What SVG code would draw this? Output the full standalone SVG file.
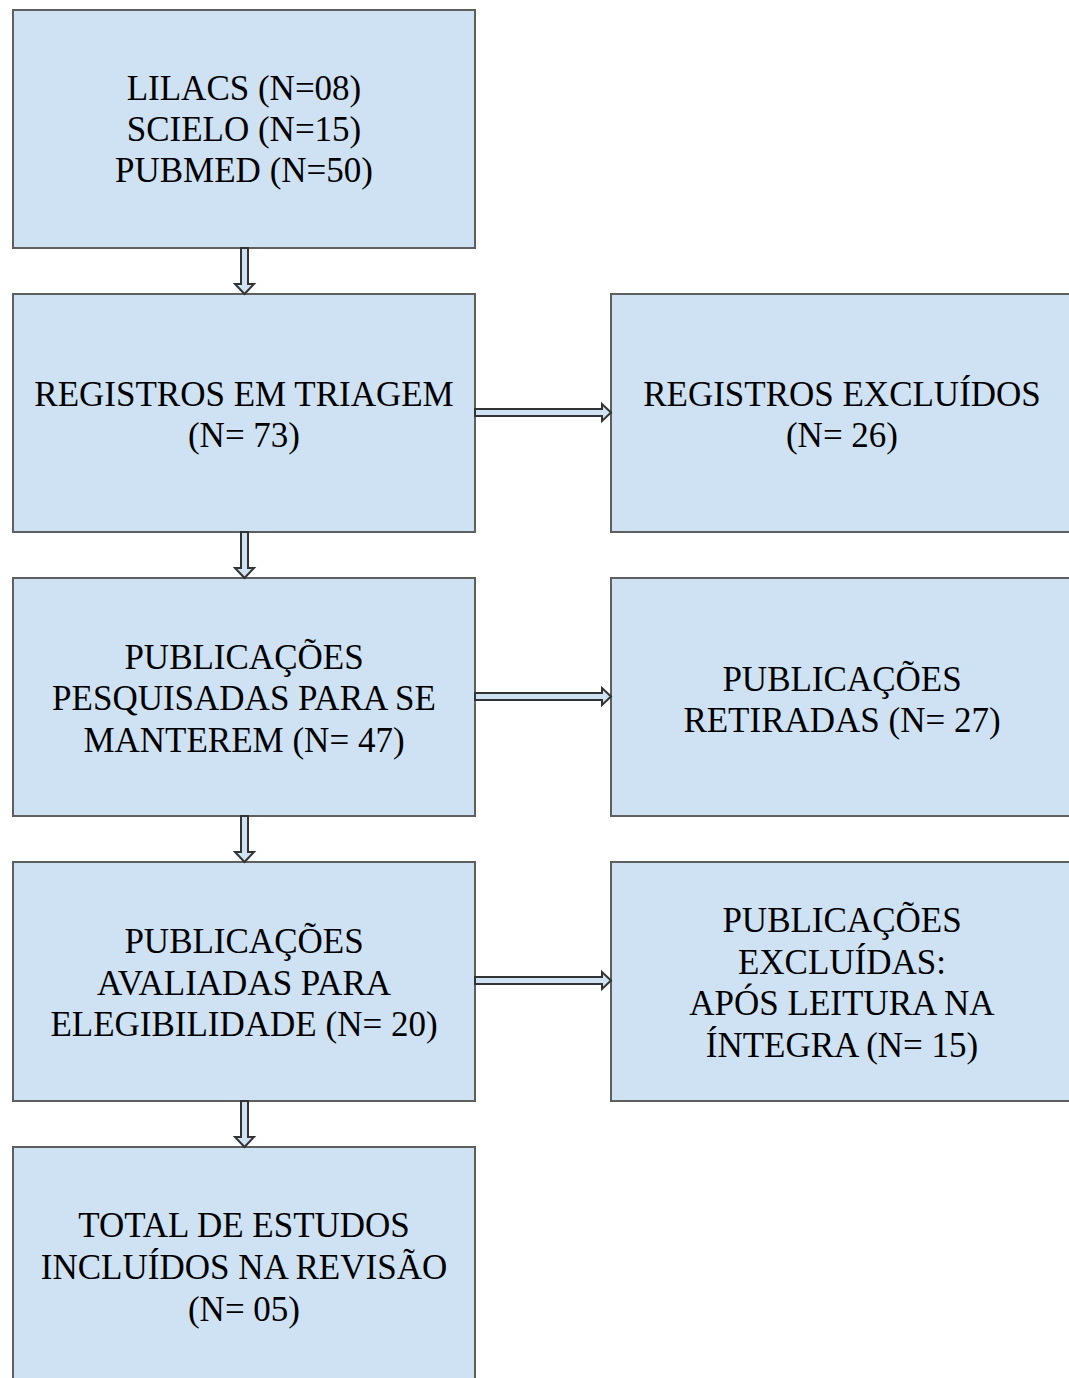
<svg xmlns="http://www.w3.org/2000/svg" width="1069" height="1378" viewBox="0 0 1069 1378">
<style>
.box{fill:#cfe2f3;stroke:#5f5f5f;stroke-width:2}
.t{font-family:"Liberation Serif","Times New Roman",serif;font-size:35px;fill:#000000;text-anchor:middle}
.arr{fill:#cfe2f3;stroke:#333333;stroke-width:2;stroke-linejoin:miter}
</style>
<rect width="1069" height="1378" fill="#ffffff"/>
<g id="n1"><rect class="box" x="13" y="10" width="462" height="238"/>
<text class="t" x="244" y="100">LILACS (N=08)</text>
<text class="t" x="244" y="141">SCIELO (N=15)</text>
<text class="t" x="244" y="182">PUBMED (N=50)</text></g>
<g id="n2"><rect class="box" x="13" y="294" width="462" height="238"/>
<text class="t" x="244" y="406">REGISTROS EM TRIAGEM</text>
<text class="t" x="244" y="447">(N= 73)</text></g>
<g id="n3"><rect class="box" x="611" y="294" width="470" height="238"/>
<text class="t" x="842" y="406">REGISTROS EXCLUÍDOS</text>
<text class="t" x="842" y="447">(N= 26)</text></g>
<g id="n4"><rect class="box" x="13" y="578" width="462" height="238"/>
<text class="t" x="244" y="669">PUBLICAÇÕES</text>
<text class="t" x="244" y="710">PESQUISADAS PARA SE</text>
<text class="t" x="244" y="752">MANTEREM (N= 47)</text></g>
<g id="n5"><rect class="box" x="611" y="578" width="470" height="238"/>
<text class="t" x="842" y="691">PUBLICAÇÕES</text>
<text class="t" x="842" y="732">RETIRADAS (N= 27)</text></g>
<g id="n6"><rect class="box" x="13" y="862" width="462" height="239"/>
<text class="t" x="244" y="953">PUBLICAÇÕES</text>
<text class="t" x="244" y="995">AVALIADAS PARA</text>
<text class="t" x="244" y="1036">ELEGIBILIDADE (N= 20)</text></g>
<g id="n7"><rect class="box" x="611" y="862" width="470" height="239"/>
<text class="t" x="842" y="932">PUBLICAÇÕES</text>
<text class="t" x="842" y="974">EXCLUÍDAS:</text>
<text class="t" x="842" y="1015">APÓS LEITURA NA</text>
<text class="t" x="842" y="1057">ÍNTEGRA (N= 15)</text></g>
<g id="n8"><rect class="box" x="13" y="1147" width="462" height="250"/>
<text class="t" x="244" y="1237">TOTAL DE ESTUDOS</text>
<text class="t" x="244" y="1279">INCLUÍDOS NA REVISÃO</text>
<text class="t" x="244" y="1321">(N= 05)</text></g>
<g id="connectors">
<polygon class="arr" points="241,248 248,248 248,284 254,284 244.5,294 235,284 241,284"/>
<polygon class="arr" points="241,532 248,532 248,568 254,568 244.5,578 235,568 241,568"/>
<polygon class="arr" points="241,816 248,816 248,852 254,852 244.5,862 235,852 241,852"/>
<polygon class="arr" points="241,1101 248,1101 248,1137 254,1137 244.5,1147 235,1137 241,1137"/>
<polygon class="arr" points="475,409 602,409 602,404 611,412.5 602,421 602,416 475,416"/>
<polygon class="arr" points="475,693 602,693 602,688 611,696.5 602,705 602,700 475,700"/>
<polygon class="arr" points="475,977 602,977 602,972 611,980.5 602,989 602,984 475,984"/>
</g>
</svg>
